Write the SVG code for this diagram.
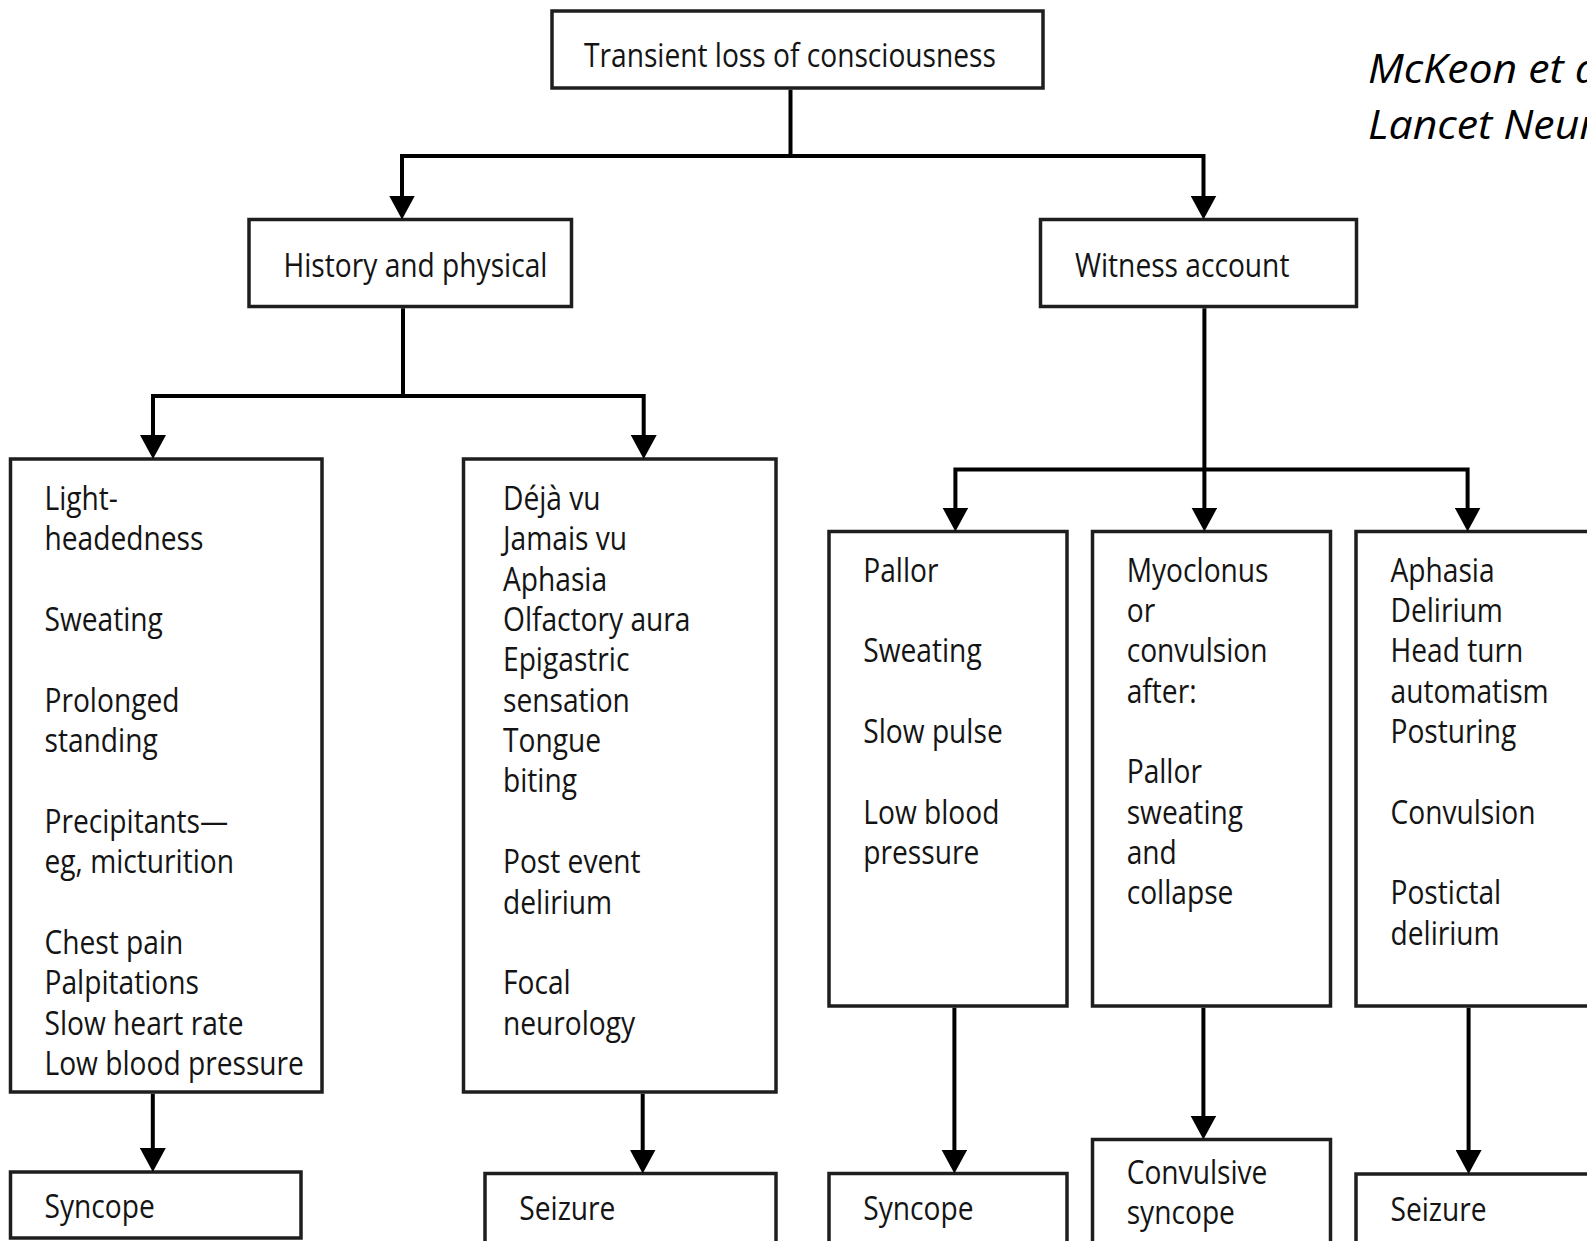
<svg xmlns="http://www.w3.org/2000/svg" width="1587" height="1241" viewBox="0 0 1587 1241">
<defs>
<style>
.box{fill:#fff;stroke:#1e1e1e;stroke-width:3.5}
.t{font-family:"Open Sans","Noto Sans",sans-serif;font-size:32px;fill:#141414}
.c{fill:none;stroke:#000;stroke-width:4;stroke-linejoin:miter}
.cite{font-family:"Open Sans","Noto Sans",sans-serif;font-style:italic;font-size:40px;fill:#000}
</style>
<marker id="ah" viewBox="0 0 24 26" markerWidth="24" markerHeight="26" markerUnits="userSpaceOnUse" refX="4" refY="13" orient="auto">
<path d="M0,0 L24,13 L0,26 z" fill="#000"/>
</marker>
</defs>
<rect width="1587" height="1241" fill="#fff"/>

<g id="citation">
<text class="cite" transform="translate(1368 0) scale(1.07 1)"><tspan x="0" y="83.5">McKeon et al</tspan><tspan x="0" y="139.5">Lancet Neurol</tspan></text>
</g>

<g id="n-root">
<rect class="box" x="552" y="11" width="491" height="77"/>
<text class="t" transform="translate(584 0) scale(0.88 1)"><tspan x="0" y="67">Transient loss of consciousness</tspan></text>
</g>

<g id="n-history">
<rect class="box" x="249" y="219.5" width="322.5" height="87"/>
<text class="t" transform="translate(283.5 0) scale(0.88 1)"><tspan x="0" y="277">History and physical</tspan></text>
</g>

<g id="n-witness">
<rect class="box" x="1040.5" y="219.5" width="316" height="87"/>
<text class="t" transform="translate(1075 0) scale(0.88 1)"><tspan x="0" y="277">Witness account</tspan></text>
</g>

<g id="n-hx-syncope-features">
<rect class="box" x="10.5" y="459" width="311.5" height="633"/>
<text class="t" transform="translate(44.5 0) scale(0.88 1)">
<tspan x="0" y="510">Light-</tspan>
<tspan x="0" y="550.4">headedness</tspan>
<tspan x="0" y="631.1">Sweating</tspan>
<tspan x="0" y="711.8">Prolonged</tspan>
<tspan x="0" y="752.1">standing</tspan>
<tspan x="0" y="832.8">Precipitants—</tspan>
<tspan x="0" y="873.2">eg, micturition</tspan>
<tspan x="0" y="953.9">Chest pain</tspan>
<tspan x="0" y="994.2">Palpitations</tspan>
<tspan x="0" y="1034.6">Slow heart rate</tspan>
<tspan x="0" y="1074.9">Low blood pressure</tspan>
</text>
</g>

<g id="n-hx-seizure-features">
<rect class="box" x="463.5" y="459" width="312.5" height="633"/>
<text class="t" transform="translate(503 0) scale(0.88 1)">
<tspan x="0" y="510">Déjà vu</tspan>
<tspan x="0" y="550.4">Jamais vu</tspan>
<tspan x="0" y="590.7">Aphasia</tspan>
<tspan x="0" y="631.1">Olfactory aura</tspan>
<tspan x="0" y="671.4">Epigastric</tspan>
<tspan x="0" y="711.8">sensation</tspan>
<tspan x="0" y="752.1">Tongue</tspan>
<tspan x="0" y="792.5">biting</tspan>
<tspan x="0" y="873.2">Post event</tspan>
<tspan x="0" y="913.5">delirium</tspan>
<tspan x="0" y="994.2">Focal</tspan>
<tspan x="0" y="1034.6">neurology</tspan>
</text>
</g>

<g id="n-w-syncope-features">
<rect class="box" x="829" y="531.5" width="238" height="474.5"/>
<text class="t" transform="translate(863.3 0) scale(0.88 1)">
<tspan x="0" y="581.7">Pallor</tspan>
<tspan x="0" y="662.4">Sweating</tspan>
<tspan x="0" y="743.1">Slow pulse</tspan>
<tspan x="0" y="823.8">Low blood</tspan>
<tspan x="0" y="864.2">pressure</tspan>
</text>
</g>

<g id="n-w-convulsive-features">
<rect class="box" x="1092.5" y="531.5" width="238" height="474.5"/>
<text class="t" transform="translate(1126.7 0) scale(0.88 1)">
<tspan x="0" y="581.7">Myoclonus</tspan>
<tspan x="0" y="622.1">or</tspan>
<tspan x="0" y="662.4">convulsion</tspan>
<tspan x="0" y="702.8">after:</tspan>
<tspan x="0" y="783.5">Pallor</tspan>
<tspan x="0" y="823.8">sweating</tspan>
<tspan x="0" y="864.2">and</tspan>
<tspan x="0" y="904.5">collapse</tspan>
</text>
</g>

<g id="n-w-seizure-features">
<rect class="box" x="1356" y="531.5" width="300" height="474.5"/>
<text class="t" transform="translate(1390.5 0) scale(0.88 1)">
<tspan x="0" y="581.7">Aphasia</tspan>
<tspan x="0" y="622.1">Delirium</tspan>
<tspan x="0" y="662.4">Head turn</tspan>
<tspan x="0" y="702.8">automatism</tspan>
<tspan x="0" y="743.1">Posturing</tspan>
<tspan x="0" y="823.8">Convulsion</tspan>
<tspan x="0" y="904.5">Postictal</tspan>
<tspan x="0" y="944.9">delirium</tspan>
</text>
</g>

<g id="n-syncope-1">
<rect class="box" x="10.5" y="1172" width="290.5" height="66"/>
<text class="t" transform="translate(44.5 0) scale(0.88 1)"><tspan x="0" y="1218">Syncope</tspan></text>
</g>

<g id="n-seizure-1">
<rect class="box" x="485" y="1173.5" width="291" height="100"/>
<text class="t" transform="translate(519.3 0) scale(0.88 1)"><tspan x="0" y="1220.5">Seizure</tspan></text>
</g>

<g id="n-syncope-2">
<rect class="box" x="829" y="1173.5" width="238" height="100"/>
<text class="t" transform="translate(863.3 0) scale(0.88 1)"><tspan x="0" y="1220.5">Syncope</tspan></text>
</g>

<g id="n-convulsive-syncope">
<rect class="box" x="1092.5" y="1139.5" width="238" height="150"/>
<text class="t" transform="translate(1126.7 0) scale(0.88 1)"><tspan x="0" y="1184">Convulsive</tspan><tspan x="0" y="1224">syncope</tspan></text>
</g>

<g id="n-seizure-2">
<rect class="box" x="1356" y="1174" width="300" height="100"/>
<text class="t" transform="translate(1390.5 0) scale(0.88 1)"><tspan x="0" y="1221">Seizure</tspan></text>
</g>

<g id="connectors">
<path class="c" d="M790.5,89.8 V156 H402 V199.5" marker-end="url(#ah)"/>
<path class="c" d="M790.5,156 H1203.5 V199.5" marker-end="url(#ah)"/>
<path class="c" d="M403,308.3 V396 H153 V439" marker-end="url(#ah)"/>
<path class="c" d="M403,396 H643.7 V439" marker-end="url(#ah)"/>
<path class="c" d="M1204.4,308.3 V511.5" marker-end="url(#ah)"/>
<path class="c" d="M1204.4,469.6 H955.4 V511.5" marker-end="url(#ah)"/>
<path class="c" d="M1204.4,469.6 H1467.6 V511.5" marker-end="url(#ah)"/>
<path class="c" d="M152.8,1093.8 V1152" marker-end="url(#ah)"/>
<path class="c" d="M642.7,1093.8 V1153.5" marker-end="url(#ah)"/>
<path class="c" d="M954.4,1007.8 V1153.5" marker-end="url(#ah)"/>
<path class="c" d="M1203.4,1007.8 V1119.5" marker-end="url(#ah)"/>
<path class="c" d="M1468.6,1007.8 V1154" marker-end="url(#ah)"/>
</g>
</svg>
